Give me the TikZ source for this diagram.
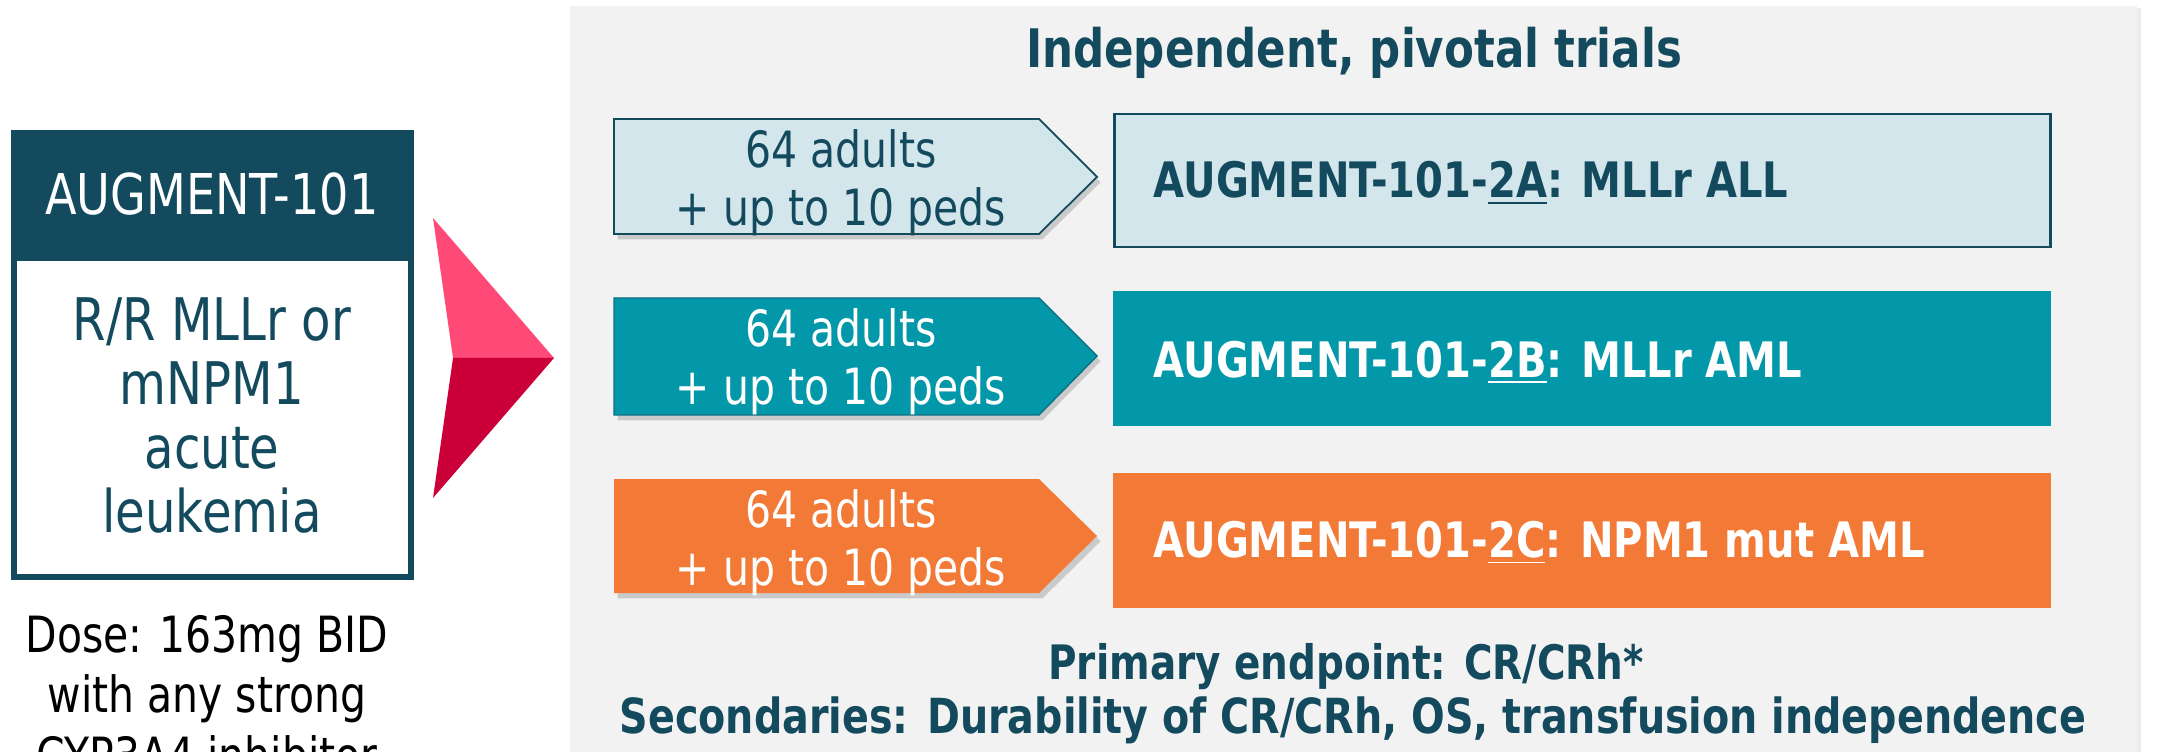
\documentclass[tikz,border=0pt]{standalone}
\usepackage{fontspec}
\setmainfont{DejaVu Sans}[FakeStretch=0.82]
\usepackage{tikz}
\usetikzlibrary{shadows}
\definecolor{augdark}{HTML}{134A5E}
\definecolor{augteal}{HTML}{0398A9}
\definecolor{augorange}{HTML}{F27A36}
\definecolor{auglight}{HTML}{D3E6EC}
\definecolor{augpanel}{HTML}{F2F2F2}
\definecolor{pinkhi}{HTML}{FF4A78}
\definecolor{pinklo}{HTML}{CC0038}

\begin{document}
\begin{tikzpicture}[x=0.01cm,y=-0.01cm,
    arm/.style={drop shadow={opacity=0.35,shadow xshift=1pt,shadow yshift=-1.5pt}},
    armtxt/.style={align=center,inner sep=0pt,font=\fontsize{14.2}{16.5}\selectfont},
    trial/.style={anchor=base west,inner sep=0pt,font=\fontsize{13.9}{16}\selectfont\bfseries}]
      \useasboundingbox (0,0) rectangle (2176,752);
      \fill[augdark] (11,130) rectangle (414,258);
      \draw[augdark,line width=1.7pt,fill=white] (14,258) rectangle (411,577);
      \node[white,font=\fontsize{16}{18}\selectfont] (aug) at (212,194) {AUGMENT-101};
      \node[augdark,anchor=north,align=center,inner sep=0pt,font=\fontsize{16.7}{18.2}\selectfont] (pop) at (212,297)
        {R/R MLLr or\\mNPM1\\acute\\leukemia};
      \node[black,anchor=north,align=center,inner sep=0pt,font=\fontsize{14.2}{17.1}\selectfont] (dose) at (207,615)
        {Dose: 163mg BID\\with any strong\\CYP3A4 inhibitor};
      \fill[pinkhi] (433,218) -- (554,358) -- (453,358) -- cycle;
      \fill[pinklo] (453,358) -- (554,358) -- (433,498) -- cycle;
      \fill[augpanel,drop shadow={opacity=0.15,shadow xshift=1pt,shadow yshift=-0.5pt}] (570,6) rectangle (2137,800);
      \node[augdark,anchor=base,font=\fontsize{15.1}{18}\selectfont\bfseries] (title) at (1354,68) {Independent, pivotal trials};
      \draw[augdark,line width=0.5pt,fill=auglight,arm] (614,119) -- (1039,119) -- (1097,177) -- (1039,234) -- (614,234) -- cycle;
      \node[armtxt,augdark] (n2a) at (841,183) {64 adults\\+ up to 10 peds};
      \draw[augdark,line width=0.85pt,fill=auglight] (1114,114) rectangle (2050,247);
      \node[trial,augdark] (t2a) at (1153,198) {AUGMENT-101-\underline{2A}: MLLr ALL};
      \draw[augdark!50!augteal,line width=0.4pt,fill=augteal,arm] (614,298) -- (1039,298) -- (1097,356) -- (1039,415) -- (614,415) -- cycle;
      \node[armtxt,white] (n2b) at (841,362) {64 adults\\+ up to 10 peds};
      \fill[augteal] (1113,291) rectangle (2051,426);
      \node[trial,white] (t2b) at (1153,377) {AUGMENT-101-\underline{2B}: MLLr AML};
      \fill[augorange,arm] (614,479) -- (1039,479) -- (1097,536) -- (1039,593) -- (614,593) -- cycle;
      \node[armtxt,white] (n2c) at (841,543) {64 adults\\+ up to 10 peds};
      \fill[augorange] (1113,473) rectangle (2051,608);
      \node[trial,white] (t2c) at (1153,557) {AUGMENT-101-\underline{2C}: NPM1 mut AML};
      \node[augdark,anchor=base,font=\fontsize{13.5}{16}\selectfont\bfseries] (prim) at (1346,679) {Primary endpoint: CR/CRh*};
      \node[augdark,anchor=base,font=\fontsize{13.75}{16}\selectfont\bfseries] (sec) at (1353,733)
        {Secondaries: Durability of CR/CRh, OS, transfusion independence};
    \end{tikzpicture}
\end{document}
